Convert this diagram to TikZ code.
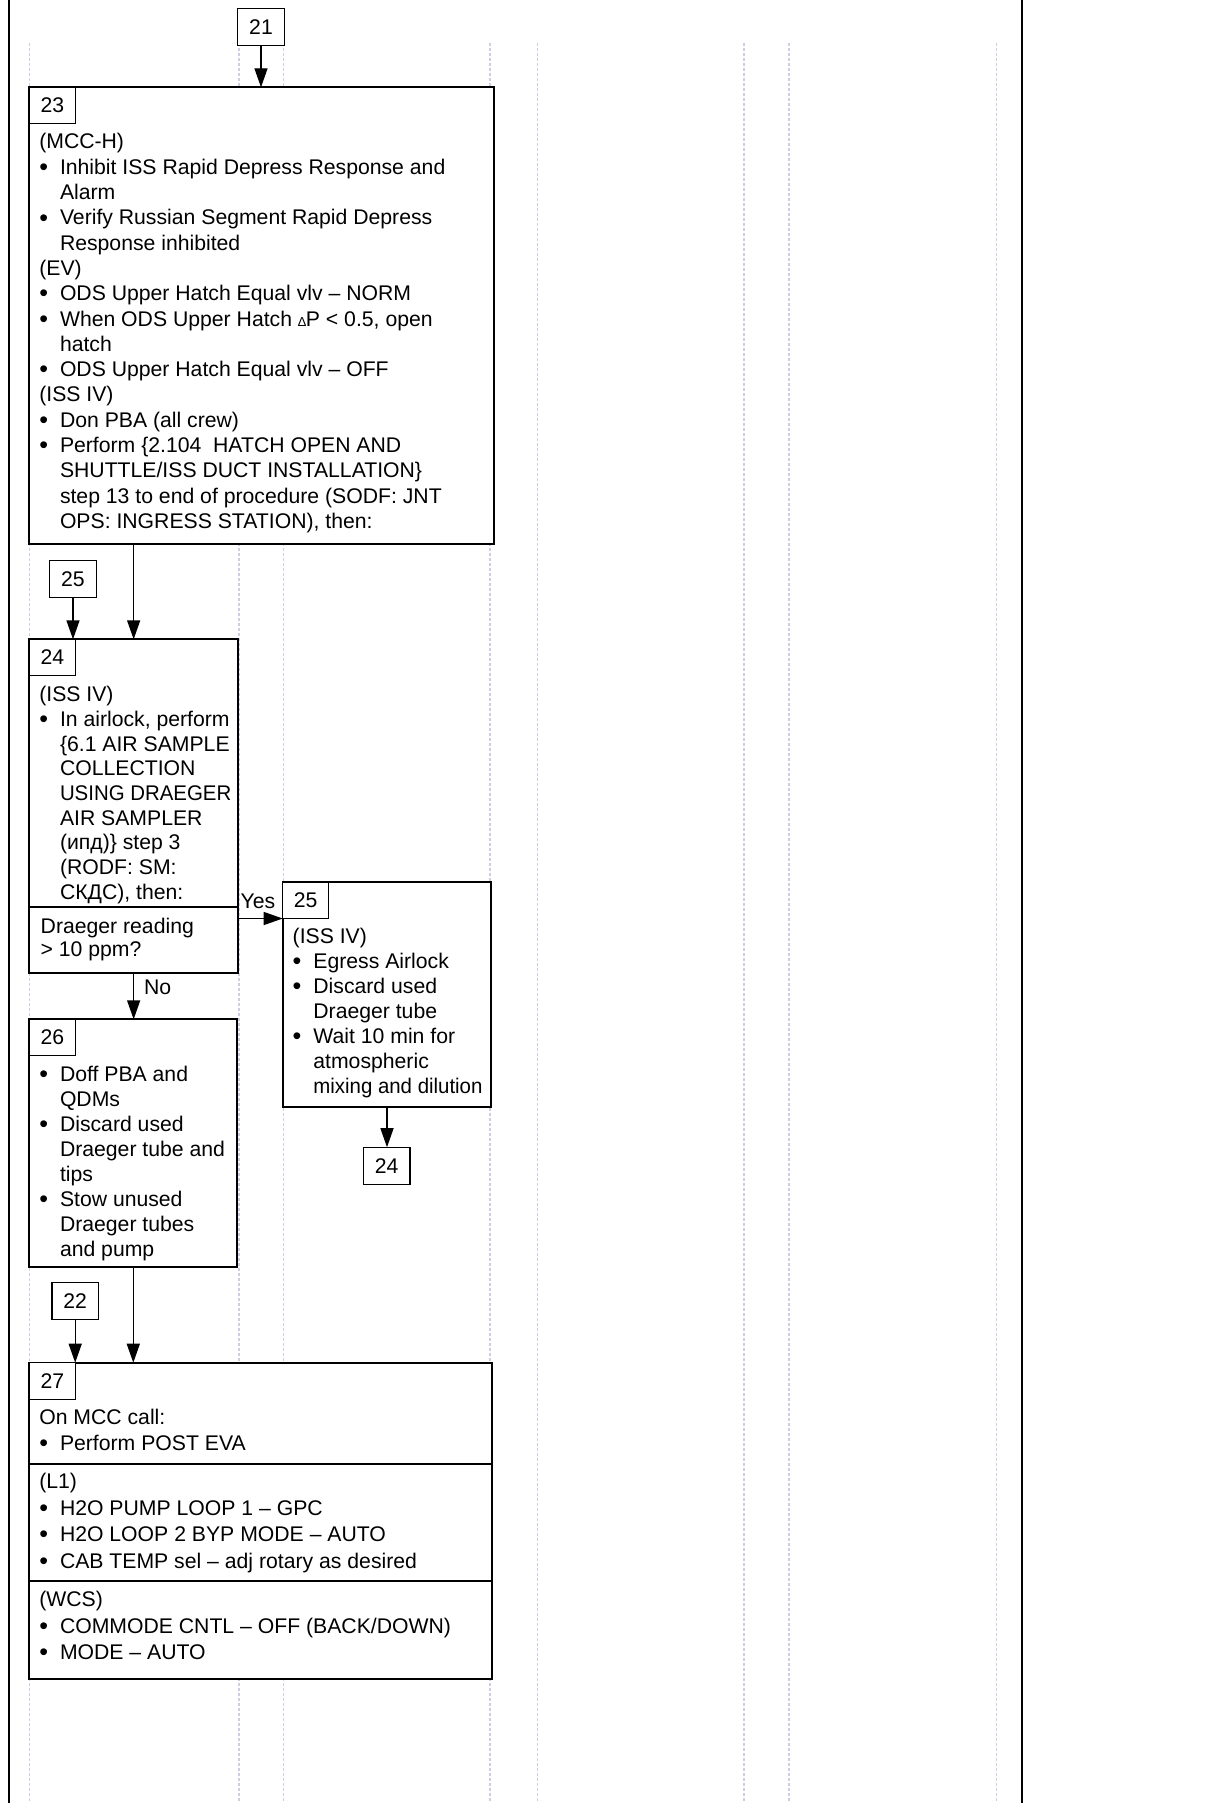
\documentclass[tikz,border=0pt]{standalone}
\usepackage{fontspec}
\usepackage{graphicx}
\setmainfont{Liberation Sans}
\usetikzlibrary{arrows.meta,calc}
\definecolor{gridc}{RGB}{205,205,228}
\newcommand\bl{\makebox[10.35pt][l]{\raisebox{-0.6pt}{\fontsize{12.5pt}{12pt}\selectfont\textbullet}}}
\newcommand\ind{\hspace*{10.35pt}}
\newcommand\squeeze[1]{\scalebox{0.963}[1]{#1}}
\newcommand\boxtext[3]{\parbox[t]{#1}{\fontsize{10.6pt}{#2}\selectfont #3}}
\begin{document}
\begin{tikzpicture}[x=0.5pt,y=-0.5pt,
  bx/.style={draw,line width=1.1pt,fill=white,inner sep=0,outer sep=0,anchor=north west},
  lab/.style={draw,line width=0.65pt,fill=white,inner sep=0,outer sep=0,anchor=north west,
    minimum width=23pt,minimum height=18.25pt,font=\fontsize{10.6pt}{12pt}\selectfont},
  refbox/.style={draw,line width=0.65pt,fill=white,inner sep=0,outer sep=0,
    minimum width=23.3pt,minimum height=18.5pt,font=\fontsize{10.6pt}{12pt}\selectfont},
  txt/.style={anchor=base west,inner sep=0,outer sep=0},
  arr/.style={line width=0.7pt,-{Triangle[length=9.5pt,width=6.5pt]}},
  div/.style={line width=1pt},
  gridline/.style={gridc,line width=0.6pt,dash pattern=on 1.5pt off 1pt},
  frameline/.style={line width=1pt}]
\useasboundingbox[fill=white] (0,0) rectangle (1229,1803);
% background grid and frame
\foreach \gx in {29.3,239,283.3,490,537.3,744,789,996.5}
  \draw[gridline] (\gx,43) -- (\gx,1803);
\draw[frameline] (8.5,0) -- (8.5,1803);
\draw[frameline] (1022,0) -- (1022,1803);

% reference boxes
\node[refbox] (r21) at (261,26.8) {21};
\node[refbox] (r25a) at (73,578.7) {25};
\node[refbox] (r24) at (386.7,1165.7) {24};
\node[refbox] (r22) at (75.2,1301.3) {22};

% box 23
\node[bx,minimum width=232.2pt,minimum height=228.5pt] (b23) at (29.3,87.3) {};
\node[lab] (l23) at (b23.north west) {23};
\node[txt] (t23) at (39.3,149) {\boxtext{225pt}{12.65pt}{(MCC-H)\\
\bl Inhibit ISS Rapid Depress Response and\\
\ind Alarm\\
\bl Verify Russian Segment Rapid Depress\\
\ind Response inhibited\\
(EV)\\
\bl ODS Upper Hatch Equal vlv -- NORM\\
\bl When ODS Upper Hatch {\fontsize{6.5pt}{6.5pt}\selectfont ∆}P < 0.5, open\\
\ind hatch\\
\bl ODS Upper Hatch Equal vlv -- OFF\\
(ISS IV)\\
\bl Don PBA (all crew)\\
\bl Perform \{2.104\ \ HATCH OPEN AND\\
\ind SHUTTLE/ISS DUCT INSTALLATION\}\\
\ind step 13 to end of procedure (SODF: JNT\\
\ind OPS: INGRESS STATION), then:}};

% box 24
\node[bx,minimum width=104.35pt,minimum height=166.7pt] (b24) at (29.3,639.3) {};
\node[lab] (l24) at (b24.north west) {24};
\coordinate (d24) at (0,907.3);
\draw[div] (b24.west |- d24) -- (b24.east |- d24);
\node[txt] (t24) at (39.3,701.7) {\boxtext{100pt}{12.35pt}{(ISS IV)\\
\bl In airlock, perform\\
\ind \{6.1 AIR SAMPLE\\
\ind COLLECTION\\
\ind \squeeze{USING DRAEGER}\\
\ind AIR SAMPLER\\
\ind (ипд)\} step 3\\
\ind (RODF: SM:\\
\ind СКДС), then:}};
\node[txt] (q24) at (40.7,933.3) {\boxtext{100pt}{11.75pt}{Draeger reading\\
> 10 ppm?}};

% box 25
\node[bx,minimum width=104.3pt,minimum height=112.35pt] (b25) at (282.7,882) {};
\node[lab] (l25) at (b25.north west) {25};
\node[txt] (t25) at (292.7,943.3) {\boxtext{100pt}{12.5pt}{(ISS IV)\\
\bl Egress Airlock\\
\bl Discard used\\
\ind Draeger tube\\
\bl Wait 10 min for\\
\ind atmospheric\\
\ind \squeeze{mixing and dilution}}};

% box 26
\node[bx,minimum width=104pt,minimum height=124pt] (b26) at (29.3,1019.3) {};
\node[lab] (l26) at (b26.north west) {26};
\node[txt] (t26) at (39.3,1081) {\boxtext{100pt}{12.5pt}{\bl Doff PBA and\\
\ind QDMs\\
\bl Discard used\\
\ind Draeger tube and\\
\ind tips\\
\bl Stow unused\\
\ind Draeger tubes\\
\ind and pump}};

% box 27
\node[bx,minimum width=231.35pt,minimum height=158.3pt] (b27) at (29.3,1362.7) {};
\node[lab] (l27) at (b27.north west) {27};
\coordinate (d27a) at (0,1464);
\coordinate (d27b) at (0,1580.7);
\draw[div] (b27.west |- d27a) -- (b27.east |- d27a);
\draw[div] (b27.west |- d27b) -- (b27.east |- d27b);
\node[txt] (t27a) at (39.3,1424) {\boxtext{225pt}{13pt}{On MCC call:\\
\bl Perform POST EVA}};
\node[txt] (t27b) at (39.3,1488.5) {\boxtext{225pt}{13.25pt}{(L1)\\
\bl H2O PUMP LOOP 1 -- GPC\\
\bl H2O LOOP 2 BYP MODE -- AUTO\\
\bl CAB TEMP sel -- adj rotary as desired}};
\node[txt] (t27c) at (39.3,1606.7) {\boxtext{225pt}{13.25pt}{(WCS)\\
\bl COMMODE CNTL -- OFF (BACK/DOWN)\\
\bl MODE -- AUTO}};

% connectors
\draw[arr] (r21.south) -- (r21.south |- b23.north);
\draw[arr] (r25a.south) -- (r25a.south |- b24.north);
\draw[arr] (b24.north |- b23.south) -- (b24.north);
\draw[arr] (b24.east |- l25.south) -- (l25.south west);
\node[txt,font=\fontsize{10.6pt}{12pt}\selectfont] (yes) at (240.7,908.3) {Yes};
\draw[arr] (b24.south) -- (b24.south |- b26.north);
\node[txt,font=\fontsize{10.6pt}{12pt}\selectfont] (no) at (144,994) {No};
\draw[arr] (b25.south) -- (b25.south |- r24.north);
\draw[arr] (b26.south) -- (b26.south |- b27.north);
\draw[arr] (r22.south) -- (r22.south |- b27.north);
\end{tikzpicture}
\end{document}
